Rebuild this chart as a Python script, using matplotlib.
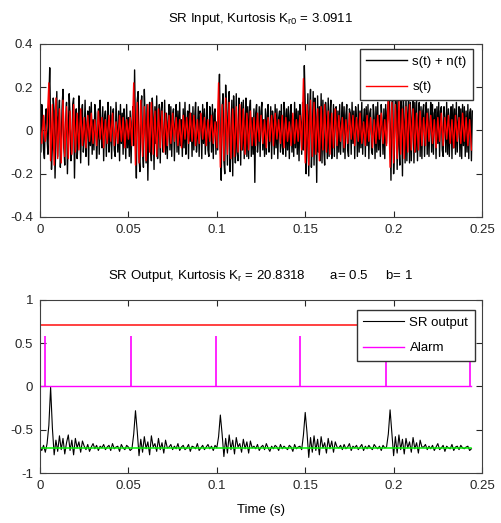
import matplotlib.pyplot as plt
import numpy as np

plt.rcParams['font.family'] = ['Liberation Sans', 'DejaVu Sans']
plt.rcParams['font.size'] = 9.5

# time axes: noisy input sampled every 0.5 ms, the rest every 1 ms
t_fast = np.arange(490) / 2000.0
t = np.arange(245) / 1000.0

# SR input s(t) + n(t), values in 1/100
s_noisy = [8, -10, 12, 3, -9, -13, 6, 10, -4, -11, 14, 29, 2, -18, -7, 15, 9, -22, -3, 18,
           -12, 6, 14, -17, -5, 11, 19, -8, -16, 4, 13, -20, -2, 17, 7, -14, -9, 12, 15, -22,
           3, 10, -13, -6, 16, 5, -15, 8, 12, -10, -4, 14, -12, 2, 9, -16, 11, -7, 13, -11,
           5, -9, 12, 8, -13, -3, 10, -11, 14, 1, -8, 11, -14, 6, 9, -12, 4, 13, -10, -5,
           11, -13, 7, 10, -9, -12, 13, 2, -10, 9, -14, 12, -6, 8, -11, 10, 3, -13, 12, -8,
           6, -12, 9, -15, 4, 11, -7, 28, -3, -22, 14, 18, -12, -19, 7, 16, -9, -17, 19, 5,
           -15, 12, -23, 3, 13, -8, -14, 15, 6, -18, 11, -6, 16, -13, 2, 12, -15, 9, 13, -10,
           -6, 14, -11, 8, -13, 4, 12, -9, 11, -12, 7, 10, -14, 3, 12, -10, 9, -11, 13, -7,
           5, -12, 10, -8, 13, -11, 2, 9, -13, 12, -5, 8, -12, 11, -9, 6, 13, -10, -3, 11,
           -12, 9, 7, -13, 12, -6, 10, -11, 4, 13, -9, -12, 11, 6, -10, 12, -13, 8, 10, -11,
           4, -9, 13, 26, -5, -23, 10, 17, -14, -20, 21, 8, -16, 12, 18, -19, -6, 14, -21, 16,
           3, -15, 17, -10, -14, 15, 8, -16, 13, -9, 14, -13, 5, 15, -12, 11, -13, 9, 14, -12,
           6, -11, 10, -24, 8, 12, -10, -4, 11, -12, 9, 13, -9, 5, -12, 10, -11, 7, 12, -10,
           -3, 11, -13, 9, 4, -11, 12, -8, 10, -13, 6, 9, -10, 12, -7, -11, 13, 8, -12, 10,
           -9, 11, -13, 7, 12, -10, 5, -12, 13, -8, 10, -11, 9, -14, 12, 4, -11, 13, -9, 30,
           12, -20, -6, 17, -21, 9, 19, -17, -4, 18, -16, 15, 6, -24, 16, -10, 11, -14, 17, -15,
           14, -8, -16, 13, 5, -13, 15, -12, 8, 14, -13, -5, 12, -12, 10, 11, -13, 9, -10, 12,
           -11, 4, 13, -10, 11, -13, 7, 12, -9, -12, 10, 8, -11, 13, -6, 9, -13, 11, 5, -12,
           12, -10, 9, -8, 13, -11, 3, 10, -12, 11, -7, 12, -13, 8, 10, -9, -11, 12, 6, -13,
           11, -10, 13, -9, 7, -12, 12, 4, -11, 10, -13, 12, -6, 9, 14, 20, 3, -23, 12, 18,
           -20, -8, 17, 13, -18, 19, -7, -16, 15, 11, -21, 16, 4, -15, 17, -14, 8, 15, -15, 13,
           -14, 6, 15, -15, 13, -10, 14, -14, 5, 13, -12, 11, -13, 9, 12, -12, 7, 13, -11, 10,
           -12, 4, 13, -10, 12, -11, 8, 10, -13, 11, -6, 13, -12, 9, 11, -9, -12, 11, 5, -10,
           13, -11, 10, -12, 6, 11, -13, 12, -8, 10, -11, 13, -10, 4, 11, -12, 10, -13, 12, -7,
           11, -12, 9, -10, 12, -13, 8, 10, -14, 9]

# clean signal s(t), values in 1/100
s_clean = [4, -6, 7, -5, 3,
           22,
           -14, 12, -16, 15, -13, 10, -15, 14, -12, 11, -13, 9, -11, 12, -10, 8, -9, 10, -7,
           6, -8, 7, -5, 8, -6, 5, -7, 9, -4, 6, -8, 5, -6, 7, -5, 8, -7, 4, -6, 7, -5, 6, -8, 5, -4, 6, -7,
           22,
           -16, 13, -15, 14, -12, 11, -14, 12, -10, 13, -11, 9, -12, 10, -8, 9, -10, 8, -7,
           7, -6, 8, -5, 6, -7, 5, -8, 7, -4, 6, -6, 8, -5, 7, -7, 5, -6, 8, -4, 6, -7, 5, -5, 7, -6, 4, -8,
           22,
           -17, 12, -14, 15, -11, 13, -13, 10, -12, 11, -10, 12, -9, 10, -11, 8, -9, 9, -7,
           6, -7, 8, -5, 7, -6, 5, -8, 6, -5, 7, -7, 8, -4, 5, -6, 7, -8, 6, -5, 4, -7, 8, -6, 5, -5, 7, -9,
           24,
           -15, 12, -16, 14, -12, 13, -11, 10, -14, 11, -9, 12, -10, 9, -11, 8, -8, 10, -7,
           7, -5, 6, -8, 5, -6, 8, -4, 7, -7, 6, -5, 8, -6, 4, -7, 7, -5, 6, -8, 5, -6, 7, -4, 8, -6, 5, -7,
           16,
           -17, 13, -15, 12, -13, 14, -11, 10, -13, 11, -10, 12, -9, 10, -10, 8, -9, 9, -7,
           6, -7, 8, -5, 7, -6, 5, -8, 6, -5, 8, -7, 6, -4, 7, -6, 5, -8, 7, -5, 6, -6, 8, -5, 6, -7, 5, -9]

# SR output, values in 1/100
sr_out = [-70, -74, -68, -76, -66,
          -45, -1, -48, -79,
          -62, -75, -57, -73, -60, -78, -65, -56, -74, -62, -79, -60, -71, -64, -76, -63,
          -69, -73, -67, -75, -70, -66, -72, -68, -74, -69, -71, -67, -73, -70, -68, -74, -66, -72, -70, -69, -75, -67, -71, -73, -68, -70, -74, -72,
          -55, -28, -52, -80,
          -61, -76, -58, -72, -64, -79, -57, -70, -66, -75, -60, -73, -65, -77, -62, -71,
          -70, -67, -73, -69, -72, -66, -74, -70, -68, -73, -71, -67, -75, -69, -70, -72, -66, -74, -71, -68, -73, -70, -67, -72, -69, -74, -68, -71,
          -58, -33, -55, -81,
          -60, -77, -56, -73, -62, -78, -59, -70, -66, -76, -61, -72, -64, -77, -63, -71,
          -69, -72, -67, -74, -70, -68, -73, -66, -71, -75, -69, -72, -68, -70, -74, -67, -72, -69, -71, -73, -68, -70, -75, -67, -72, -70, -69, -73,
          -56, -30, -53, -82,
          -59, -76, -57, -74, -61, -79, -58, -71, -65, -77, -60, -72, -63, -76, -64, -70,
          -71, -68, -73, -67, -72, -70, -66, -74, -69, -71, -68, -73, -70, -67, -74, -69, -72, -68, -71, -73, -67, -70, -72, -69, -74, -68, -71, -70,
          -55, -27, -54, -80,
          -58, -77, -56, -73, -61, -78, -60, -71, -64, -76, -59, -72, -65, -77, -62, -70,
          -70, -67, -73, -69, -72, -68, -74, -70, -66, -73, -71, -68, -75, -69, -71, -72, -67, -74, -70, -69, -73, -68, -71, -72, -70, -69, -74, -72]

alarm_times = [0.0028, 0.0513, 0.0994, 0.147, 0.1955, 0.2432]
alarm_level = 0.58
upper_well = 0.707
lower_well = -0.707

s_noisy = np.array(s_noisy) / 100.0
s_clean = np.array(s_clean) / 100.0
sr_out = np.array(sr_out) / 100.0

fig = plt.figure(figsize=(5.02, 5.23), dpi=100)
ax1 = fig.add_axes([0.0797, 0.5851, 0.8805, 0.3308])
ax2 = fig.add_axes([0.0797, 0.0956, 0.8805, 0.3308])

xt = [0, 0.05, 0.1, 0.15, 0.2, 0.25]
xtl = ['0', '0.05', '0.1', '0.15', '0.2', '0.25']

leg_kw = dict(fancybox=False, edgecolor='0.2', framealpha=1, handlelength=3.1,
              handletextpad=0.4, labelspacing=1.0, borderpad=0.5,
              borderaxespad=0, fontsize=9.5, loc='upper right')

# top
ax1.plot(t_fast, s_noisy, color='k', lw=1.0, label='s(t) + n(t)')
ax1.plot(t, s_clean, color='r', lw=1.0, label='s(t)')
ax1.set_xlim(0, 0.25)
ax1.set_ylim(-0.4, 0.4)
ax1.set_yticks([-0.4, -0.2, 0, 0.2, 0.4])
ax1.set_yticklabels(['-0.4', '-0.2', '0', '0.2', '0.4'])
ax1.set_title('SR Input, Kurtosis K$_{\\mathregular{r0}}$ = 3.0911', fontsize=9.5, pad=16)
ax1.legend(bbox_to_anchor=(0.98, 0.971), **leg_kw)

# bottom
ax2.plot(t, np.full(len(t), upper_well), color='#ff2020', lw=1.2)
ax2.plot(t, sr_out, color='k', lw=0.8, label='SR output')
ax2.plot(t, np.zeros(len(t)), color='#ff00ff', lw=1.0, label='Alarm')
ax2.vlines(alarm_times, 0, alarm_level, color='#ff00ff', lw=1.2)
ax2.plot(t, np.full(len(t), lower_well), color='#00ee00', lw=1.1)
ax2.set_xlim(0, 0.25)
ax2.set_ylim(-1, 1)
ax2.set_yticks([-1, -0.5, 0, 0.5, 1])
ax2.set_yticklabels(['-1', '-0.5', '0', '0.5', '1'])
ax2.set_title('SR Output, Kurtosis K$_{\\mathregular{r}}$ = 20.8318       a= 0.5     b= 1', fontsize=9.5, pad=15)
ax2.set_xlabel('Time (s)', labelpad=9)
ax2.legend(bbox_to_anchor=(0.984, 0.942), **leg_kw)

for ax in (ax1, ax2):
    ax.set_xticks(xt)
    ax.set_xticklabels(xtl)
    ax.tick_params(direction='in', top=True, right=True, length=4, colors='0.15', pad=5)
    for sp in ax.spines.values():
        sp.set_color('0.25')

fig.savefig('out.png', dpi=100)
